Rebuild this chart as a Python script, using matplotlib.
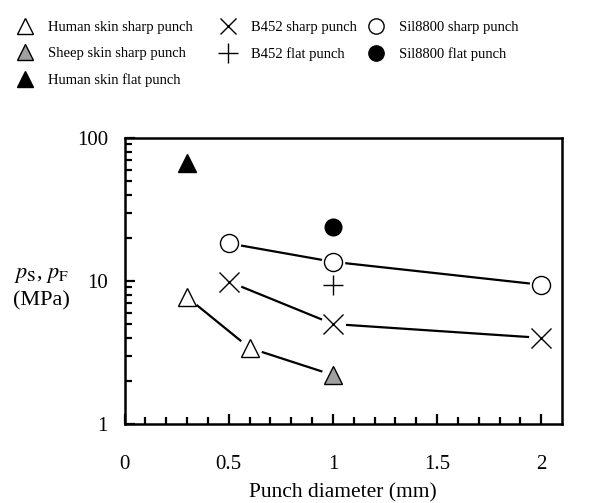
#!/usr/bin/env python3

'''Puncture pressure vs punch diameter for skin and skin simulants.'''

import matplotlib as mpl
import matplotlib.pyplot as plt
from matplotlib.lines import Line2D

# punch diameters (mm) and pressures (MPa)
human_sharp_d = [0.3, 0.6]
human_sharp_p = [7.7, 3.4]
sheep_sharp_d = [1.0]
sheep_sharp_p = [2.2]
human_flat_d = [0.3]
human_flat_p = [67]
b452_sharp_d = [0.5, 1.0, 2.0]
b452_sharp_p = [9.9, 5.0, 4.0]
b452_flat_d = [1.0]
b452_flat_p = [9.3]
sil_sharp_d = [0.5, 1.0, 2.0]
sil_sharp_p = [18.3, 13.6, 9.4]
sil_flat_d = [1.0]
sil_flat_p = [23.8]

legend_labels = ['Human skin sharp punch', 'Sheep skin sharp punch',
                 'Human skin flat punch', 'B452 sharp punch',
                 'B452 flat punch', 'Sil8800 sharp punch',
                 'Sil8800 flat punch']

GREY = '#a0a0a0'


def marker(ax, x, y, m, fc, ms=13, mew=1.0):
    '''Draw markers with a white halo so the connecting lines stop short.'''
    ax.plot(x, y, ls='none', marker='o', ms=ms + 4, mfc='white', mec='none',
            zorder=3)
    ax.plot(x, y, ls='none', marker=m, ms=ms, mfc=fc, mec='black', mew=mew,
            zorder=4)


def main():
    mpl.rcParams['font.family'] = 'Liberation Serif'
    mpl.rcParams['mathtext.fontset'] = 'stix'
    mpl.rcParams['xtick.direction'] = 'in'
    mpl.rcParams['ytick.direction'] = 'in'
    mpl.rcParams['axes.linewidth'] = 1.8

    dpi = 100
    fig = plt.figure(figsize=(593 / dpi, 503 / dpi), dpi=dpi)
    ax = fig.add_axes([0.21, 0.157, 0.738, 0.569])

    # connecting lines
    ax.plot(human_sharp_d + sheep_sharp_d, human_sharp_p + sheep_sharp_p,
            color='black', lw=1.6, zorder=2)
    ax.plot(b452_sharp_d, b452_sharp_p, color='black', lw=1.6, zorder=2)
    ax.plot(sil_sharp_d, sil_sharp_p, color='black', lw=1.6, zorder=2)

    marker(ax, human_sharp_d, human_sharp_p, '^', 'white')
    marker(ax, sheep_sharp_d, sheep_sharp_p, '^', GREY)
    marker(ax, human_flat_d, human_flat_p, '^', 'black')
    marker(ax, b452_sharp_d, b452_sharp_p, 'x', 'none', ms=14)
    marker(ax, sil_sharp_d, sil_sharp_p, 'o', 'white')
    ax.plot(b452_flat_d, b452_flat_p, ls='none', marker='+', ms=14,
            mec='black', mew=1.0, zorder=4)
    ax.plot(sil_flat_d, sil_flat_p, ls='none', marker='o', ms=12,
            mfc='black', mec='black', zorder=4)

    ax.set_yscale('log')
    ax.set_xlim(0, 2.1)
    ax.set_ylim(1, 100)
    ax.set_xticks([0, 0.5, 1, 1.5, 2])
    ax.set_xticklabels(['0', '0.5', '1', '1.5', '2'])
    ax.set_xticks([i / 10 for i in range(21)], minor=True)
    ax.set_yticks([1, 10, 100])
    ax.set_yticklabels(['1', '10', '100'])
    ax.tick_params(which='major', length=7, width=1.6, labelsize=15)
    ax.tick_params(which='minor', length=5, width=1.6)
    ax.tick_params(axis='x', which='major', pad=22)
    ax.tick_params(axis='y', which='major', pad=12)
    ax.tick_params(axis='y', which='minor', labelleft=False)

    ax.set_xlabel('Punch diameter (mm)', fontsize=15.5, labelpad=7)
    ax.set_ylabel('$p_{\\mathrm{S}}$, $p_{\\mathrm{F}}$\n(MPa)', fontsize=16,
                  rotation=0, ha='center', va='center', linespacing=1.45)
    ax.yaxis.set_label_coords(-0.189, 0.475)

    # legend: three separate columns placed like the original
    h = [Line2D([], [], ls='none', marker='^', ms=11, mfc='white',
                mec='black', mew=1.0),
         Line2D([], [], ls='none', marker='^', ms=11, mfc=GREY,
                mec='black', mew=1.0),
         Line2D([], [], ls='none', marker='^', ms=11, mfc='black',
                mec='black'),
         Line2D([], [], ls='none', marker='x', ms=12, mec='black', mew=1.0),
         Line2D([], [], ls='none', marker='+', ms=14, mec='black', mew=1.0),
         Line2D([], [], ls='none', marker='o', ms=11, mfc='white',
                mec='black', mew=1.0),
         Line2D([], [], ls='none', marker='o', ms=11, mfc='black',
                mec='black')]
    groups = [(0, 3, 0.0054), (3, 5, 0.3477), (5, 7, 0.5973)]
    for start, stop, x0 in groups:
        fig.legend(h[start:stop], legend_labels[start:stop], loc='upper left',
                   bbox_to_anchor=(x0, 0.985), frameon=False, fontsize=10.5,
                   handlelength=1.2, handletextpad=0.95, labelspacing=0.9)

    plt.savefig('out.png', dpi=dpi)
    plt.close()


if __name__ == '__main__':
    main()
